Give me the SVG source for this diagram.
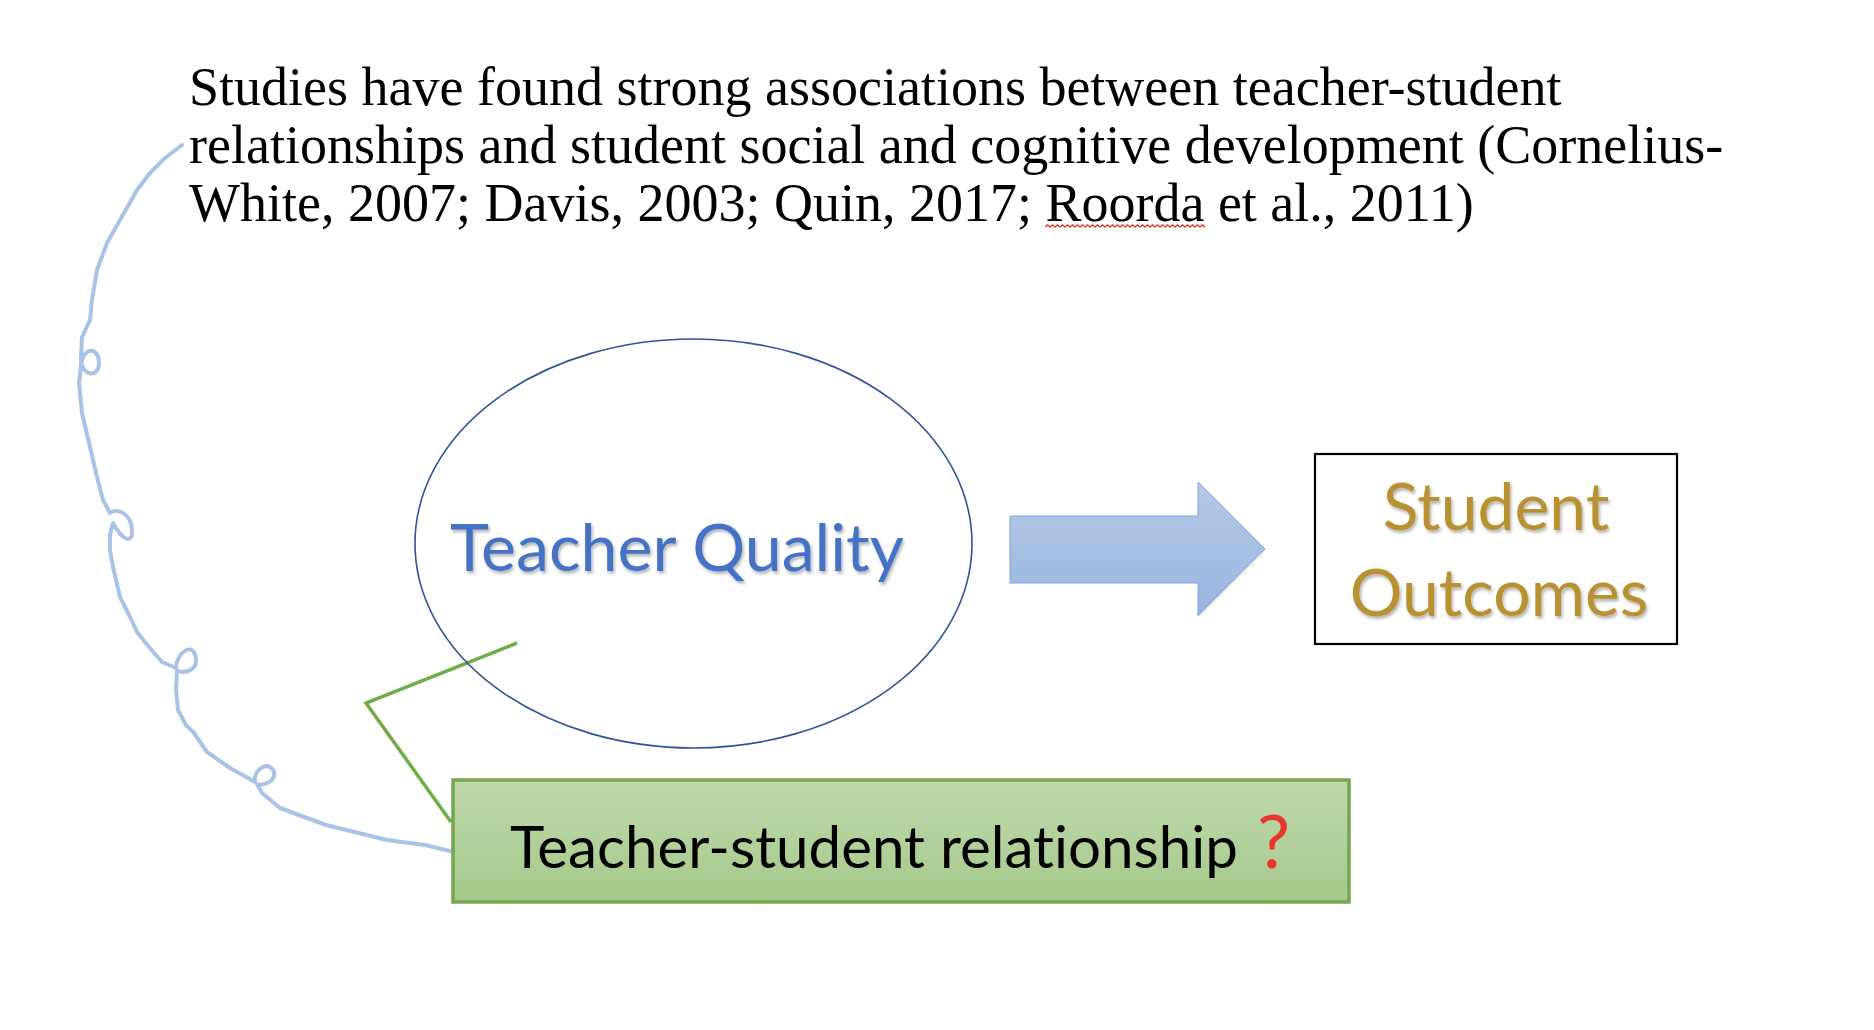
<svg xmlns="http://www.w3.org/2000/svg" width="1874" height="1030" viewBox="0 0 1874 1030">
<style>
.para{font-family:"Liberation Serif","Times New Roman",serif;font-size:54px;fill:#000}
.cal{font-family:Lato,"Open Sans",sans-serif;font-variant-ligatures:none}
</style>
<defs>
<linearGradient id="arrowGrad" x1="0" y1="0" x2="0" y2="1"><stop offset="0" stop-color="#B6C9E8"/><stop offset="1" stop-color="#98B5DE"/></linearGradient>
<linearGradient id="greenGrad" x1="0" y1="0" x2="0" y2="1"><stop offset="0" stop-color="#BFD8AE"/><stop offset="1" stop-color="#A6C98A"/></linearGradient>
<filter id="shadow" x="-5%" y="-20%" width="110%" height="150%"><feDropShadow dx="1.5" dy="2.5" stdDeviation="1.5" flood-color="#000" flood-opacity="0.3"/></filter>
<pattern id="wave" x="0" y="0" width="5" height="4" patternUnits="userSpaceOnUse"><path d="M0 3.2 L2.5 0.8 L5 3.2" fill="none" stroke="#E0301E" stroke-width="1.2"/></pattern>
</defs>
<rect width="1874" height="1030" fill="#fff"/>

<g id="paragraph">
<text class="para" x="189" y="105">Studies have found strong associations between teacher-student</text>
<text class="para" x="189" y="163">relationships and student social and cognitive development (Cornelius-</text>
<text class="para" x="189" y="221">White, 2007; Davis, 2003; Quin, 2017; Roorda et al., 2011)</text>
<rect x="1045" y="224" width="160" height="4" fill="url(#wave)"/>
</g>

<g id="connectors">
<path fill="none" stroke="#A9C3E6" stroke-width="4" stroke-linecap="round" stroke-linejoin="round" d="M182,145 L165,158 L150,173 L137,190 L120,220 L107,243 L97,270 L92,300 L90,320 L82,337 L81,360 C81,375 99,380 99,362 C99,348 84,345 81,365 L79,383 L82,413 L90,447 L97,477 L103,500 L110,513 C116,508 131,512 132,530 C133,545 122,540 113,523 L110,535 L110,550 L113,567 L120,597 L130,617 L137,632 L149,647 L162,662 L176,668 C176,652 195,640 196,660 C197,672 180,674 177,670 L176,690 L178,710 L186,725 L194,733 L207,752 L230,768 L255,782 C253,768 270,760 274,772 C276,782 262,786 257,784 L262,793 L280,808 L326,825 L387,840 L425,845 L454,852"/>
<polyline fill="none" stroke="#70AD47" stroke-width="3.5" points="517,643 366,703 451,822"/>
<path d="M1010,516 H1198 V482 L1265,549 L1198,616 V583 H1010 Z" fill="url(#arrowGrad)" stroke="#7EA2D8" stroke-width="1"/>
</g>

<g id="teacher-quality">
<ellipse cx="693.5" cy="543.5" rx="278.5" ry="204.5" fill="none" stroke="#2F5597" stroke-width="1.6"/>
<text class="cal" x="450" y="571" font-size="65" fill="#4472C4" textLength="454" lengthAdjust="spacingAndGlyphs" filter="url(#shadow)">Teacher Quality</text>
</g>

<g id="student-outcomes">
<rect x="1315" y="454" width="362" height="190" fill="#fff" stroke="#000" stroke-width="2.2"/>
<text class="cal" x="1496" y="530" font-size="66" fill="#B89130" text-anchor="middle" filter="url(#shadow)">Student</text>
<text class="cal" x="1499" y="616" font-size="66" fill="#B89130" text-anchor="middle" filter="url(#shadow)">Outcomes</text>
</g>

<g id="teacher-student-relationship">
<rect x="453" y="780" width="896" height="122" fill="url(#greenGrad)" stroke="#74A84E" stroke-width="3.5"/>
<text class="cal" x="510" y="868" font-size="58" fill="#000" textLength="728" lengthAdjust="spacingAndGlyphs">Teacher-student relationship</text>
<text class="cal" x="1257" y="868" font-size="74" fill="#E8372A">?</text>
</g>
</svg>
